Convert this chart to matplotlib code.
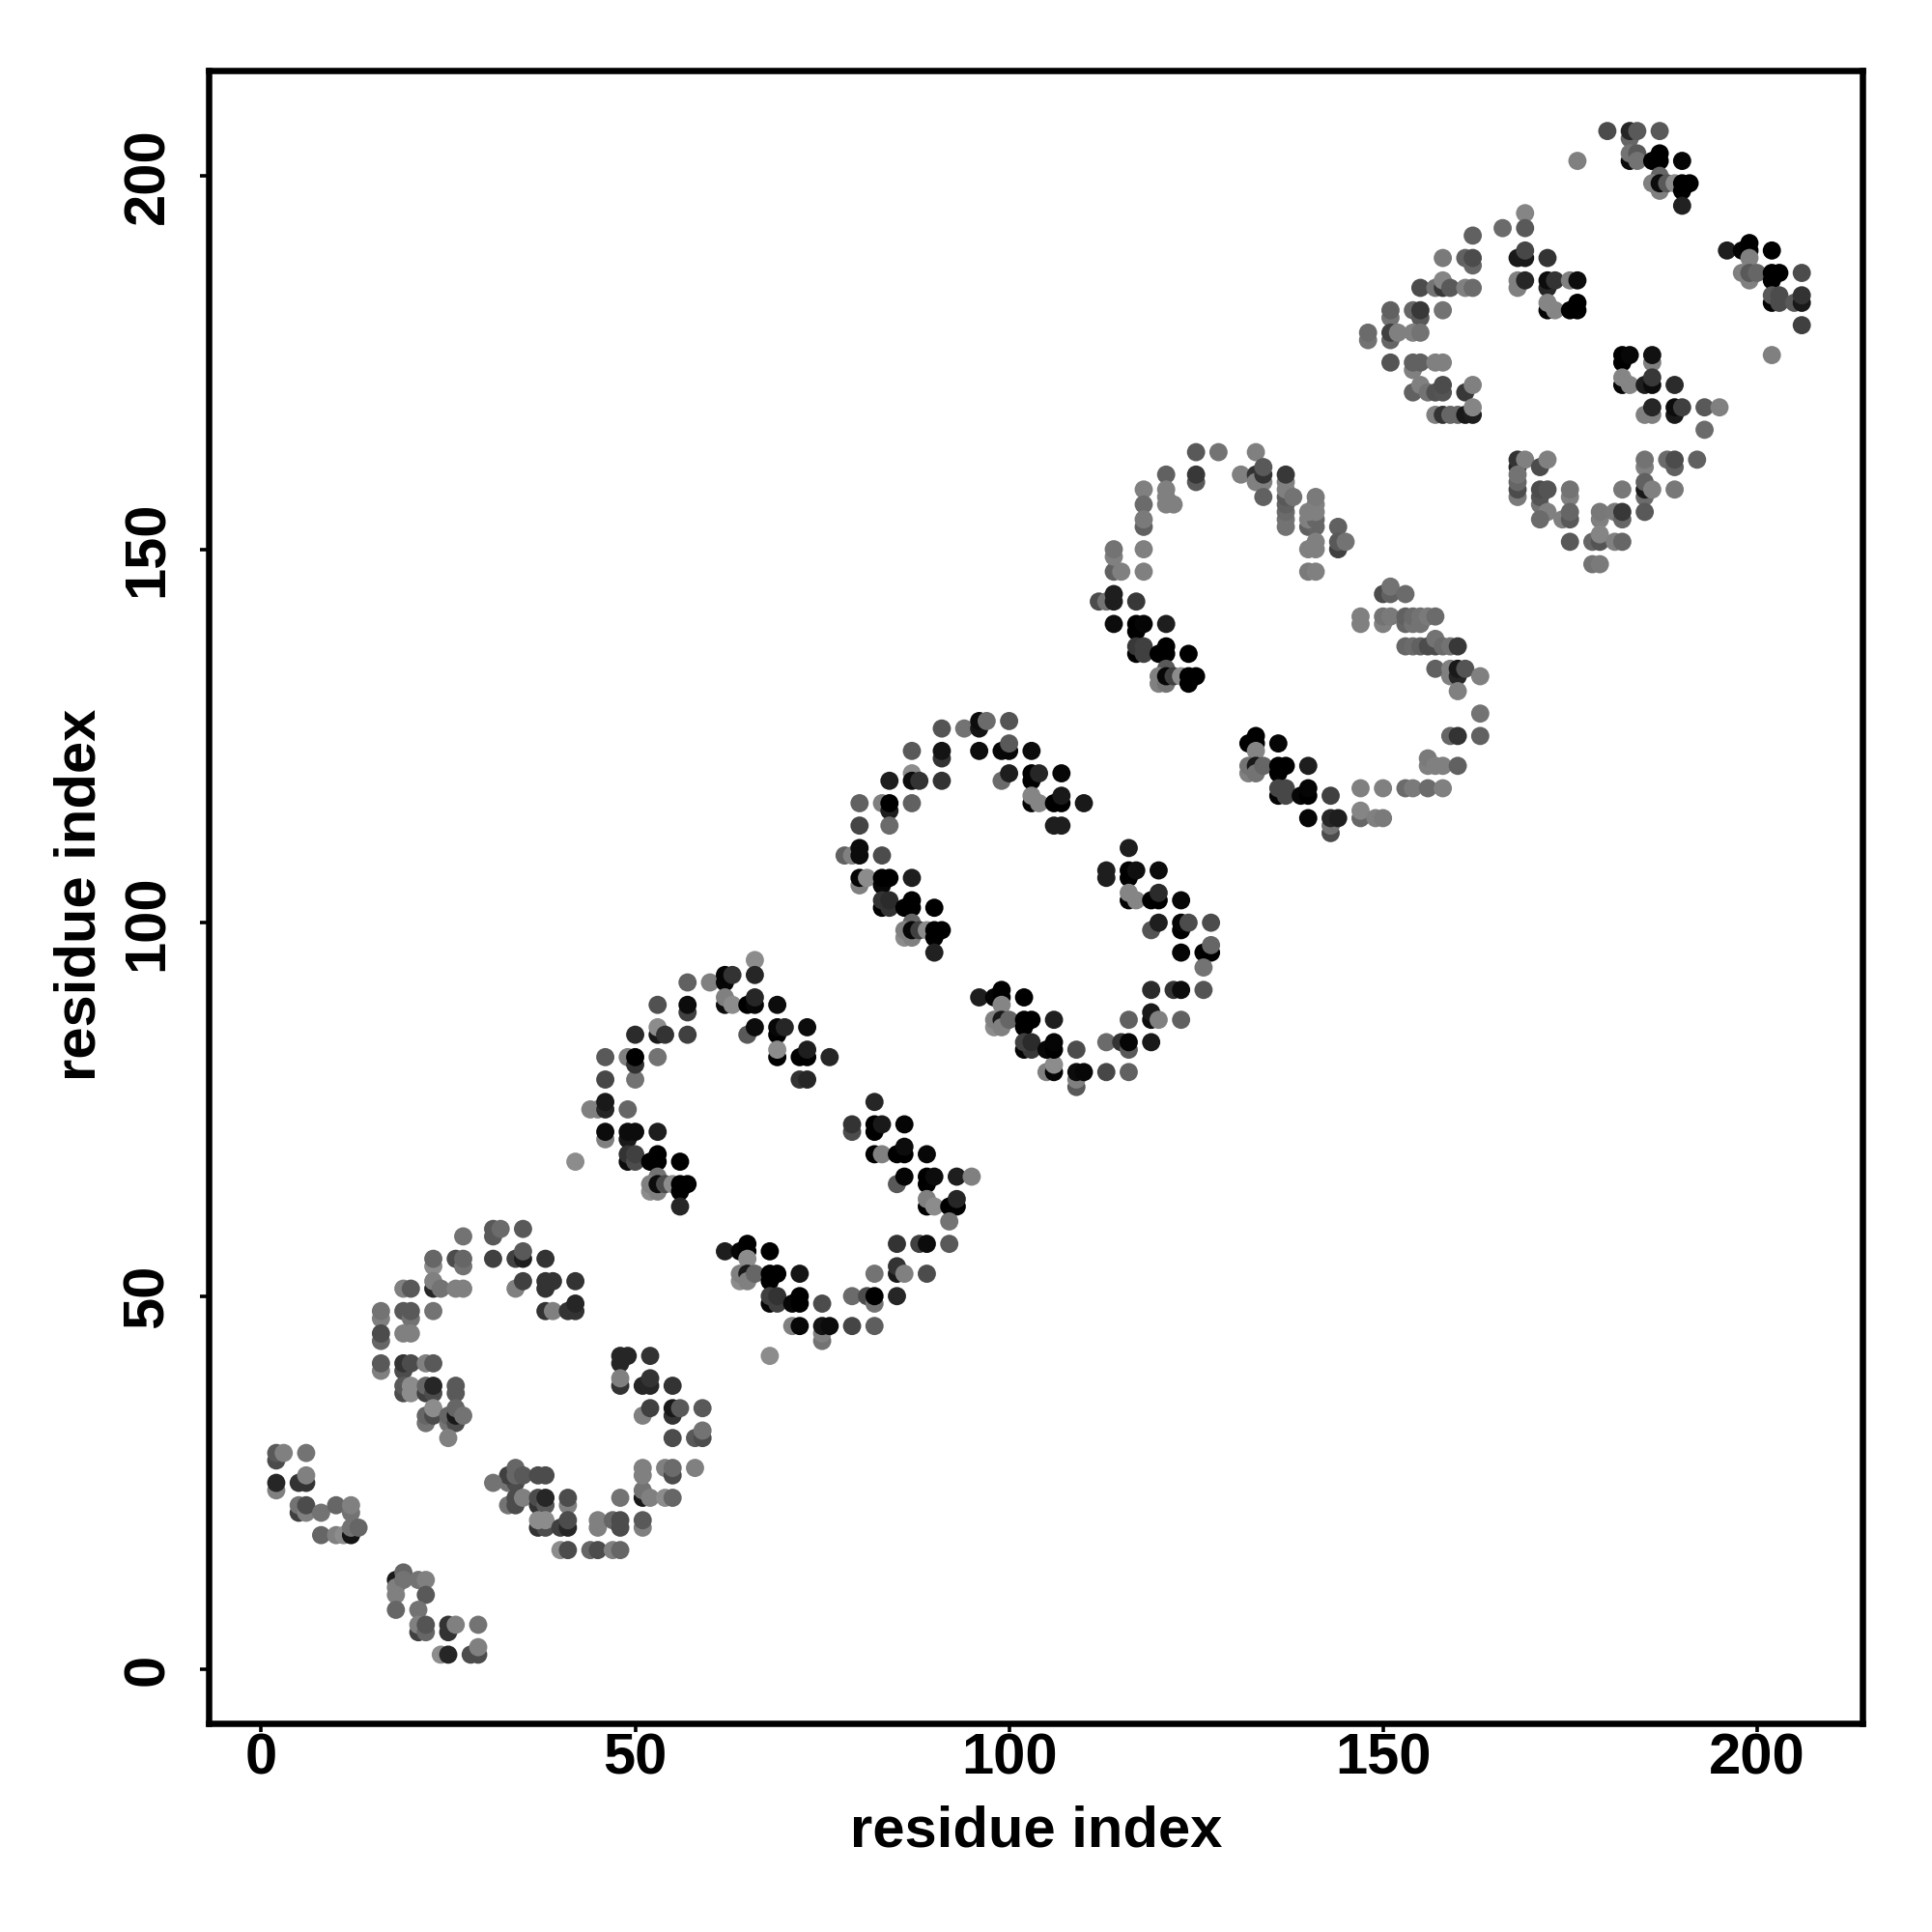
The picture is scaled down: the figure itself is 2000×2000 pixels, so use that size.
import matplotlib
matplotlib.use('Agg')
import matplotlib.pyplot as plt

plt.rcParams['font.family'] = ['Liberation Sans', 'DejaVu Sans']
plt.rcParams['font.weight'] = 'bold'

# contacts, one list per ring along the diagonal: (i, j, shade)
ring_0 = [(18,12,.1),(19,13,.4),(18,11,.5),(19,12,.45),(21,12,.45),(22,12,.5),(18,10,.5),(22,10,.35),
    (18,8,.4),(21,8,.45),(21,5,.25),(21,6,.5),(22,5,.4),(22,6,.33),(25,5,.2),(25,6,.2),(26,6,.5),(29,6,.45),
    (24,2,.55),(25,2,.15),(28,2,.3),(29,2,.3),(29,3,.5),
    (2,28,.3),(2,29,.35),(3,29,.5),(6,29,.45),(2,24,.5),(2,25,.15),(5,25,.2),(6,25,.2),(6,26,.5),
    (5,21,.25),(5,22,.45),(6,21,.5),(6,22,.3),(8,21,.45),(10,22,.4),(12,21,.45),(12,22,.5),(8,18,.4),
    (10,18,.5),(11,18,.55),(12,18,.08),(12,19,.45),(13,19,.4)]

ring_1 = [(16,40,.5),(16,41,.35),(19,40,.3),(19,41,.2),(20,41,.3),(22,41,.5),(23,41,.35),
    (19,37,.3),(19,38,.35),(20,37,.55),(20,38,.55),(22,37,.25),(22,38,.4),(23,37,.3),(23,38,.15),(26,37,.35),(26,38,.35),
    (22,33,.45),(22,34,.4),(23,34,.3),(23,35,.55),(25,33,.45),(25,34,.4),(26,33,.3),(26,34,.1),(26,35,.4),(27,34,.45),(25,31,.5),
    (48,41,.15),(48,42,.15),(49,42,.15),(52,42,.2),(48,38,.2),(48,39,.5),(51,38,.15),(52,38,.15),(52,39,.2),(55,38,.2),
    (51,34,.5),(52,35,.25),(55,34,.2),(55,35,.1),(56,35,.35),(59,35,.35),(55,31,.3),(58,31,.35),(59,31,.3),(59,32,.45),
    (33,25,.45),(34,25,.3),(33,26,.25),(34,26,.4),(34,27,.4),(35,26,.35),(37,26,.3),(38,26,.3),(31,25,.45),
    (33,22,.45),(34,22,.3),(34,23,.3),(35,23,.5),(37,22,.2),(37,23,.3),(38,22,.35),(38,23,.15),(41,22,.5),(41,23,.3),
    (37,19,.2),(38,19,.3),(37,20,.55),(38,20,.55),(40,19,.25),(41,19,.15),(41,20,.3),
    (40,16,.55),(41,16,.3),(44,16,.4),(45,16,.3),(47,16,.5),(48,16,.4),
    (45,19,.5),(45,20,.5),(47,20,.4),(48,19,.3),(48,20,.3),(51,19,.5),(51,20,.35),
    (48,23,.45),(51,23,.1),(51,24,.45),(52,23,.5),(54,23,.55),(55,23,.4),
    (51,26,.5),(51,27,.5),(54,27,.5),(55,26,.3),(55,27,.42),(58,27,.5),
    (27,58,.45),(31,58,.35),(31,59,.35),(32,59,.42),(35,59,.35),
    (23,54,.55),(23,55,.4),(26,55,.3),(27,54,.45),(27,55,.4),(31,55,.25),(34,55,.25),(35,55,.12),(35,56,.35),(38,55,.2),
    (19,51,.5),(20,51,.35),(23,51,.15),(23,52,.5),(24,51,.45),(26,51,.5),(27,51,.5),
    (34,51,.5),(35,52,.25),(38,51,.2),(38,52,.2),(39,52,.2),(42,52,.2),
    (16,47,.5),(16,48,.45),(19,48,.35),(20,47,.45),(20,48,.35),(23,48,.45),
    (38,48,.2),(39,48,.5),(41,48,.2),(42,48,.2),(42,49,.15),
    (16,44,.4),(16,45,.3),(19,45,.5),(20,45,.5)]

ring_2 = [(46,79,.28),(50,79,.45),(44,75,.5),(45,75,.5),(46,75,.15),(46,76,.1),(49,75,.4),
    (46,71,.5),(46,72,.05),(49,71,.1),(49,72,.05),(50,72,.05),(53,72,.12),
    (49,68,.05),(49,69,.2),(50,68,.3),(50,69,.25),(52,68,0),(53,68,0),(53,69,0),(56,68,0),(42,68,.55),
    (53,66,.45),(52,64,.55),(52,65,.5),(53,64,.5),(53,65,.05),(54,65,.3),(55,65,.55),(56,64,0),(56,65,0),(57,65,0),(56,62,.15),
    (62,56,.12),(64,56,.02),(65,56,0),(65,57,0),(68,56,0),(65,55,.55),
    (64,52,.55),(64,53,.5),(65,53,.1),(65,52,.5),(66,53,.4),(68,52,0),(68,53,0),(69,53,0),(72,53,.08),
    (68,49,.02),(69,49,.25),(68,50,.25),(69,50,.2),(71,49,.03),(72,49,0),(72,50,0),(75,49,.3),
    (71,46,.5),(72,46,.03),(75,44,.45),(75,45,.5),(75,46,.08),(76,46,.05),(68,42,.55),
    (66,95,.55),(66,93,.15),(60,92,.5),(62,92,.03),(62,93,.02),(63,93,.2),(57,92,.38),
    (62,89,.05),(62,90,.5),(63,89,.55),(65,89,0),(66,89,.03),(66,90,.15),(69,89,.05),
    (53,89,.32),(57,88,.25),(57,89,.05),
    (53,85,.1),(53,86,.55),(54,85,.2),(50,85,.17),(57,85,.25),(65,85,.35),(66,86,.05),(69,85,0),(69,86,.03),(70,86,.15),(73,86,.05),
    (46,82,.35),(49,82,.5),(50,81,.2),(50,82,0),(53,82,.45),(69,82,0),(69,83,.55),(72,82,0),(73,82,0),(73,83,.12),(76,82,.15),
    (72,79,.2),(73,79,.15),
    (82,76,.15),(79,72,.3),(79,73,.2),(82,72,0),(82,73,0),(83,73,.1),(86,73,.02),
    (82,69,0),(83,69,.5),(85,69,0),(86,69,0),(86,70,.05),(89,69,.03),
    (85,65,.35),(86,66,.02),(89,65,0),(89,66,0),(90,66,.05),(93,66,.12),(95,66,.5),
    (89,62,0),(89,63,.5),(90,62,.55),(92,62,0),(93,62,0),(93,63,.15),(92,60,.45),
    (85,57,.2),(88,57,.25),(89,57,.05),(92,57,.35),
    (85,53,.1),(85,54,.2),(86,53,.5),(82,53,.45),(89,53,.3),
    (79,50,.42),(81,50,.3),(82,49,.45),(82,50,0),(85,50,.15),(79,46,.27),(82,46,.37)]

ring_3 = [(91,126,.33),(94,126,.45),(96,126,.08),(96,127,.05),(97,127,.42),(100,127,.33),
    (87,123,.35),(91,122,.2),(91,123,.08),(96,123,.05),(99,123,.03),(100,123,.03),(100,124,.35),(103,123,.05),
    (87,120,.55),(87,119,.05),(88,119,.2),(84,119,.12),(91,119,.2),
    (99,119,.42),(100,120,.12),(103,119,0),(103,120,0),(104,120,.15),(107,120,.03),
    (80,116,.38),(83,116,.5),(84,115,.12),(84,116,0),(87,116,.38),
    (103,116,.02),(103,117,.52),(104,116,.52),(106,116,0),(107,116,0),(107,117,.1),(110,116,.1),
    (80,113,.27),(84,113,.42),(106,113,.12),(107,113,.12),
    (78,109,.38),(79,109,.5),(80,109,.05),(80,110,.05),(83,109,.3),
    (80,105,.5),(80,106,.02),(81,106,.55),(83,105,.03),(83,106,0),(84,106,0),(87,106,.12),
    (83,102,0),(83,103,.2),(84,102,.2),(84,103,.17),(86,102,0),(87,102,0),(87,103,0),(90,102,0),
    (87,100,.4),(86,98,.55),(86,99,.5),(87,98,.5),(87,99,.03),(88,99,.25),(89,99,.55),(90,98,0),(90,99,0),(91,99,0),(90,96,.13),
    (116,110,.12),(113,106,.12),(113,107,.12),(116,106,0),(116,107,0),(117,107,.06),(120,107,.05),
    (116,103,.02),(116,104,.52),(117,103,.52),(119,103,0),(120,103,0),(120,104,.17),(123,103,.03),
    (119,99,.33),(120,100,.12),(123,99,0),(123,100,.02),(124,100,.3),(127,100,.3),
    (123,96,.02),(126,96,0),(127,96,0),(127,97,.4),(126,94,.45),
    (119,91,.17),(122,91,.2),(123,91,.05),(126,91,.33),
    (119,87,.05),(119,88,.1),(120,87,.5),(116,87,.38),(123,87,.38),
    (113,84,.42),(115,84,.2),(116,83,.35),(116,84,.02),(119,84,.1),
    (105,80,.5),(106,80,.02),(106,81,.55),(109,78,.35),(109,79,.5),(109,80,.05),(110,80,.03),(113,80,.28),(116,80,.38),
    (96,90,.12),(98,90,.02),(99,90,0),(99,91,0),(102,90,0),(99,89,.52),
    (98,86,.55),(98,87,.5),(99,87,.1),(99,86,.5),(100,87,.4),(102,86,0),(102,87,0),(103,87,0),(106,87,.12),
    (102,83,.02),(103,83,.22),(102,84,.25),(103,84,.17),(105,83,.03),(106,83,0),(106,84,.02),(109,83,.3)]

ring_4 = [(125,163,.35),(128,163,.45),(133,163,.5),
    (121,160,.38),(125,159,.35),(125,160,.22),(131,160,.5),(133,160,.2),(133,159,.5),(134,159,.5),(134,160,.2),(134,161,.35),
    (118,158,.5),(118,156,.42),(121,158,.5),(121,157,.5),(121,156,.5),(122,156,.5),(134,157,.38),
    (137,153,.45),(137,154,.45),(137,155,.42),(137,156,.38),(137,157,.35),(137,158,.5),(137,159,.5),(137,160,.22),(138,157,.45),
    (140,153,.38),(141,153,.4),(140,154,.5),(141,154,.4),(140,155,.5),(141,155,.5),(141,156,.5),(141,157,.48),
    (144,153,.38),(144,150,.25),(144,151,.35),(145,151,.45),(140,150,.5),(141,150,.5),(141,151,.5),(140,147,.48),(141,147,.5),
    (118,153,.38),(118,154,.48),(114,147,.38),(115,147,.5),(114,149,.5),(114,150,.45),(118,150,.5),(118,147,.5),
    (112,143,.3),(113,143,.45),(114,143,.12),(114,144,.12),(117,143,.22),
    (114,140,.05),(117,139,0),(117,140,0),(118,140,.02),(121,140,.12),
    (117,136,0),(117,137,.22),(118,136,.25),(118,137,.25),(120,136,0),(121,136,0),(121,137,0),(124,136,0),
    (121,134,.35),(120,132,.5),(120,133,.5),(121,132,.45),(121,133,.03),(122,133,.25),(123,133,.55),(124,132,0),(124,133,0),(125,133,0),
    (150,144,.3),(151,144,.38),(151,145,.45),(153,144,.42),(147,140,.5),(147,141,.5),(150,140,.5),(150,141,.45),(151,141,.48),
    (153,140,.4),(153,141,.38),(154,140,.45),(154,141,.42),(155,140,.45),(155,141,.45),(156,141,.48),(157,141,.42),
    (153,137,.4),(154,137,.42),(155,137,.38),(156,137,.3),(157,137,.3),(157,138,.45),(158,137,.42),(159,137,.45),(160,137,.22),
    (157,134,.38),(159,133,.5),(159,134,.5),(160,133,.15),(160,134,.1),(161,134,.33),(163,133,.5),(160,131,.5),
    (163,128,.45),(163,125,.38),(159,125,.4),(160,125,.2),
    (156,121,.5),(156,122,.48),(157,121,.5),(158,121,.5),(160,121,.38),
    (147,118,.5),(150,118,.5),(153,118,.42),(154,118,.48),(156,118,.42),(158,118,.5),
    (147,114,.4),(147,115,.52),(149,114,.5),(150,114,.48),
    (132,124,0),(133,124,0),(133,125,0),(136,124,.02),(133,123,.52),
    (132,120,.5),(132,121,.45),(133,121,.1),(133,120,.45),(134,121,.4),(136,120,0),(136,121,0),(137,121,0),(140,121,.12),
    (136,117,.02),(137,117,.28),(136,118,.28),(137,118,.28),(139,117,.03),(140,117,0),(140,118,.02),(143,117,.25),
    (140,114,.02),(143,112,.3),(143,113,.45),(143,114,.15),(144,114,.12)]

ring_5 = [(180,206,.3),(183,205,.4),(183,206,.15),(184,206,.35),(187,206,.35),
    (176,202,.5),(183,202,.05),(183,203,.45),(184,203,.35),(184,202,.45),(186,202,0),(187,202,0),(187,203,0),(190,202,.02),
    (187,200,.4),(186,199,.5),(187,198,.5),(187,199,.05),(188,199,.35),(189,199,.55),(190,198,0),(190,199,0),(191,199,0),(190,196,.13),
    (169,195,.52),(166,193,.42),(169,193,.35),(162,192,.38),
    (158,189,.48),(161,189,.38),(162,188,.4),(162,189,.3),(168,189,.1),(169,189,.1),(169,190,.28),(172,189,.2),
    (155,185,.3),(157,185,.45),(158,185,.22),(158,186,.52),(159,185,.35),(161,185,.5),(162,185,.42),
    (168,185,.5),(168,186,.5),(169,186,.15),(172,185,.15),(172,186,.05),(173,186,.2),(175,186,.5),(176,186,.05),
    (151,181,.45),(151,182,.38),(154,182,.4),(155,181,.35),(155,182,.22),(158,182,.45),
    (172,182,.02),(172,183,.52),(173,182,.52),(175,182,0),(176,182,0),(176,183,0),
    (148,178,.45),(148,179,.42),(151,178,.4),(151,179,.25),(152,179,.5),(154,179,.5),(155,179,.45),
    (151,175,.33),(154,174,.5),(154,175,.38),(155,175,.38),(157,175,.5),(158,175,.5),
    (154,171,.38),(155,172,.5),(156,171,.45),(157,171,.32),(158,171,.33),(158,172,.3),(161,171,.22),(162,172,.5),
    (157,168,.5),(158,168,.2),(159,168,.4),(160,168,.4),(161,168,.1),(162,168,.12),(162,169,.52),
    (196,190,.12),(198,190,.02),(199,190,0),(199,191,0),(202,190,0),(199,189,.5),
    (198,187,.5),(199,186,.5),(199,187,.35),(200,187,.4),(202,186,0),(202,187,0),(203,187,0),(206,187,.3),
    (202,183,.02),(202,184,.35),(203,183,.3),(203,184,.3),(205,183,.35),(206,183,.1),(206,184,.2),(206,180,.25),(202,176,.5),
    (182,175,0),(182,176,0),(183,176,.03),(186,175,.5),(186,176,.07),
    (182,172,.02),(182,173,.52),(183,172,.52),(185,172,.12),(186,172,.05),(186,173,.22),(189,172,.17),
    (185,168,.5),(186,168,.5),(186,169,.15),(189,168,.1),(189,169,.05),(190,169,.25),(193,169,.35),(195,169,.5),(193,166,.42),
    (168,161,.15),(168,162,.2),(169,162,.5),(171,161,.3),(172,162,.5),
    (168,157,.48),(168,158,.3),(168,159,.4),(168,160,.45),
    (171,156,.45),(171,157,.33),(171,158,.3),(172,158,.33),(172,155,.5),(171,154,.42),(175,157,.5),(175,158,.45),(174,154,.5),(175,154,.35),(175,155,.4),
    (179,154,.5),(179,155,.47),(181,155,.48),(182,154,.4),(182,155,.22),(182,158,.47),
    (185,161,.5),(185,162,.45),(185,157,.42),(185,158,.1),(185,159,.38),(186,158,.5),(185,155,.35),
    (188,162,.42),(189,161,.38),(189,162,.3),(192,162,.38),(189,158,.47),
    (175,151,.35),(178,151,.4),(179,151,.33),(179,152,.52),(181,151,.5),(182,151,.4),(178,148,.45),(179,148,.48)]

rings = [ring_0, ring_1, ring_2, ring_3, ring_4, ring_5]
tick_values = [0, 50, 100, 150, 200]

fig = plt.figure(figsize=(10, 10), dpi=200)
ax = fig.add_axes([216/2000, 1 - 1784/2000, 1711.5/2000, 1711/2000])

for ring in rings:
    i, j, shade = zip(*ring)
    ax.scatter(i, j, c=shade, cmap='gray', vmin=0, vmax=1, s=46, linewidths=0, zorder=2)

ax.set_xlim(-7.04, 214.05)
ax.set_ylim(-7.2, 214.1)
ax.set_xticks(tick_values)
ax.set_yticks(tick_values)
ax.tick_params(axis='x', length=3.2, width=1.3, labelsize=21.5, pad=0.3)
ax.tick_params(axis='y', length=3.2, width=1.3, labelsize=21.5, pad=9.4, labelrotation=90)
for lab in ax.get_yticklabels():
    lab.set_va('center')
for side in ax.spines.values():
    side.set_linewidth(2.35)

fig.text(1072.4/2000, 1 - 1911/2000, 'residue index', fontsize=21.5, fontweight='bold',
         ha='center', va='baseline')
fig.text(98.3/2000, 1 - 926.7/2000, 'residue index', fontsize=21.5, fontweight='bold',
         rotation=90, ha='center', va='baseline', rotation_mode='anchor')

fig.savefig('out.png', dpi=200)
